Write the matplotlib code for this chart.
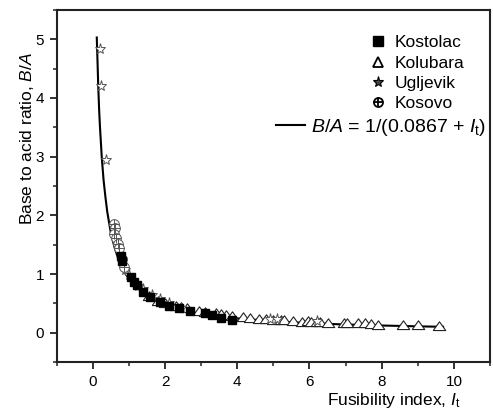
import matplotlib
matplotlib.use("Agg")
import matplotlib.pyplot as plt
from matplotlib.lines import Line2D
from matplotlib.legend_handler import HandlerTuple
from matplotlib.ticker import MultipleLocator

plt.rcParams["font.family"] = ["Liberation Sans", "DejaVu Sans"]
plt.rcParams["mathtext.fontset"] = "custom"
plt.rcParams["mathtext.rm"] = "Liberation Sans"
plt.rcParams["mathtext.it"] = "Liberation Sans:italic"

# valores
kostolac_x = [0.78, 0.82, 1.05, 1.15, 1.22, 1.40, 1.57, 1.85, 2.12, 2.40, 2.70, 3.10, 3.30, 3.55, 3.85]
kostolac_y = [1.30, 1.22, 0.95, 0.87, 0.82, 0.70, 0.61, 0.53, 0.46, 0.42, 0.37, 0.33, 0.30, 0.26, 0.21]

kolubara_x = [1.55, 1.80, 2.00, 2.30, 2.45, 2.60, 2.95, 3.10, 3.40, 3.55, 3.70, 3.85, 4.15, 4.35,
              4.60, 4.80, 5.00, 5.20, 5.30, 5.55, 5.80, 5.95, 6.05, 6.20, 6.30, 6.50, 6.95, 7.05,
              7.35, 7.55, 7.70, 7.90, 8.60, 9.00, 9.60]
kolubara_y = [0.62, 0.54, 0.50, 0.45, 0.44, 0.42, 0.37, 0.36, 0.33, 0.32, 0.30, 0.29, 0.27, 0.25,
              0.23, 0.24, 0.22, 0.22, 0.21, 0.20, 0.19, 0.20, 0.18, 0.19, 0.18, 0.17, 0.17, 0.16,
              0.16, 0.16, 0.15, 0.14, 0.13, 0.13, 0.12]

ugljevik_x = [0.21, 0.23, 0.36, 0.88, 1.00, 1.10, 1.25, 1.40, 1.65, 1.85, 2.10, 2.45, 4.90, 5.10, 6.20]
ugljevik_y = [4.83, 4.21, 2.94, 1.07, 0.98, 0.88, 0.80, 0.75, 0.65, 0.58, 0.50, 0.43, 0.24, 0.23, 0.20]

kosovo_x = [0.58, 0.62, 0.60, 0.64, 0.69, 0.73, 0.80, 0.85]
kosovo_y = [1.86, 1.78, 1.68, 1.62, 1.52, 1.44, 1.25, 1.12]

# curva de ajuste B/A = 1/(0.0867 + It), puntos leidos
ajuste_x = [0.11, 0.13, 0.15, 0.175, 0.20, 0.25, 0.30, 0.35, 0.40, 0.50, 0.60, 0.70, 0.80, 0.90,
            1.0, 1.2, 1.5, 1.8, 2.2, 2.6, 3.0, 3.5, 4.0, 5.0, 6.0, 7.0, 8.0, 9.0, 9.7]
ajuste_y = [5.03, 4.63, 4.21, 3.80, 3.49, 2.97, 2.59, 2.31, 2.06, 1.70, 1.46, 1.27, 1.13, 1.01,
            0.92, 0.78, 0.63, 0.53, 0.44, 0.37, 0.32, 0.28, 0.245, 0.197, 0.164, 0.141, 0.124, 0.110, 0.102]

fig = plt.figure(figsize=(4.93, 4.12), dpi=100)
ax = fig.add_axes([0.115, 0.121, 0.879, 0.855])

linea, = ax.plot(ajuste_x, ajuste_y, color="black", lw=1.5, zorder=2)

tri = [(-1, -0.65), (1, -0.65), (0, 0.75), (-1, -0.65)]
ax.plot(kolubara_x, kolubara_y, ls="none", marker=tri, ms=9,
        mfc="white", mec="#222222", mew=0.8, zorder=3)
ax.plot(ugljevik_x, ugljevik_y, ls="none", marker="*", ms=8,
        mfc="white", mec="#555555", mew=0.7, zorder=3)
ax.plot(kostolac_x, kostolac_y, ls="none", marker="s", ms=5.5,
        mfc="black", mec="black", zorder=4)
ax.plot(kosovo_x, kosovo_y, ls="none", marker="o", ms=7,
        mfc="white", mec="#555555", mew=0.7, zorder=3)
ax.plot(kosovo_x, kosovo_y, ls="none", marker="+", ms=7,
        mec="#555555", mew=0.7, zorder=3)

# leyenda de marcadores (mas gruesos que en el grafico)
l_kst = Line2D([], [], ls="none", marker="s", ms=6.5, color="black")
l_kol = Line2D([], [], ls="none", marker="^", ms=7, mfc="white", mec="black", mew=1.3)
l_ugl = Line2D([], [], ls="none", marker="*", ms=8, mfc="#444444", mec="black", mew=0.8)
l_ko1 = Line2D([], [], ls="none", marker="o", ms=6.5, mfc="white", mec="black", mew=1.3)
l_ko2 = Line2D([], [], ls="none", marker="+", ms=6.5, mec="black", mew=1.3)

leg1 = ax.legend([l_kst, l_kol, l_ugl, (l_ko1, l_ko2)],
                 ["Kostolac", "Kolubara", "Ugljevik", "Kosovo"],
                 handler_map={tuple: HandlerTuple(ndivide=1, pad=0)},
                 loc="upper right", bbox_to_anchor=(0.94, 0.928),
                 frameon=False, fontsize=12.5, handlelength=1.0,
                 handletextpad=0.45, labelspacing=0.3, borderpad=0, borderaxespad=0)
ax.add_artist(leg1)
ax.legend([linea], [r"$B/A$ = 1/(0.0867 + $I_\mathrm{t}$)"],
          loc="upper right", bbox_to_anchor=(0.992, 0.697),
          frameon=False, fontsize=14, handlelength=1.5,
          handletextpad=0.32, borderpad=0, borderaxespad=0)

ax.set_xlim(-1, 11)
ax.set_ylim(-0.5, 5.5)
ax.xaxis.set_major_locator(MultipleLocator(2))
ax.xaxis.set_minor_locator(MultipleLocator(1))
ax.yaxis.set_major_locator(MultipleLocator(1))
ax.yaxis.set_minor_locator(MultipleLocator(0.5))
ax.tick_params(which="major", length=5, width=1.3, labelsize=11, pad=4, color="#222222")
ax.tick_params(which="minor", length=3, width=1.1, color="#222222")
for s in ax.spines.values():
    s.set_linewidth(1.5)
    s.set_color("#222222")

ax.set_xlabel(r"Fusibility index, $I_\mathrm{t}$", fontsize=12.5)
ax.xaxis.set_label_coords(0.778, -0.082)
ax.set_ylabel(r"Base to acid ratio, $B/A$", fontsize=12.5)
ax.yaxis.set_label_coords(-0.047, 0.636)

fig.savefig("out.png", dpi=100)
